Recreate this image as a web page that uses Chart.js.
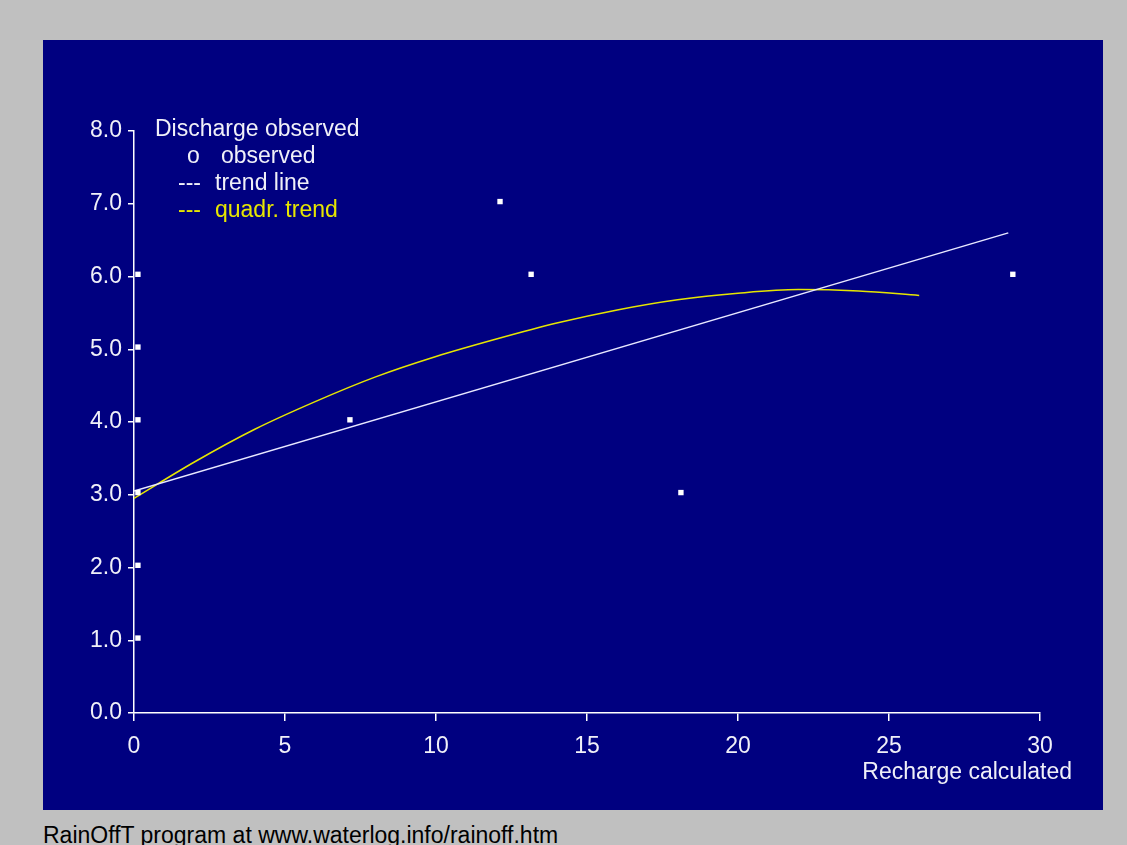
<!DOCTYPE html>
<html>
<head>
<meta charset="utf-8">
<script src="https://cdn.jsdelivr.net/npm/chart.js@4/dist/chart.umd.min.js"></script>
<style>
  body { margin: 0; background: #c0c0c0; width: 1127px; height: 845px; overflow: hidden; }
  #panel { position: absolute; left: 43px; top: 40px; width: 1060px; height: 770px; background: #000080; }
  #footer { position: absolute; left: 43px; top: 822px; font: 23px "Liberation Sans", Arial, sans-serif; color: #000; white-space: nowrap; }
</style>
</head>
<body>
<div id="panel"><canvas id="myChart" width="1060" height="770"></canvas></div>
<div id="footer">RainOffT program at www.waterlog.info/rainoff.htm</div>
<script>
// observed points (recharge calculated vs discharge observed)
const obsX = [0.13, 0.13, 0.13, 0.13, 0.13, 0.13, 7.15, 12.12, 13.15, 18.11, 29.1];
const obsY = [1.03, 2.03, 3.03, 4.03, 5.03, 6.03, 4.03, 7.03, 6.03, 3.03, 6.03];

// linear trend line, ends
const trendX = [0, 28.95];
const trendY = [3.05, 6.6];

// quadratic trend
const quadX = [0, 2, 4, 6, 8, 10, 12, 14, 16, 18, 20, 22, 24, 26];
const quadY = [2.95, 3.45, 3.9, 4.28, 4.62, 4.9, 5.14, 5.36, 5.54, 5.68, 5.77, 5.82, 5.8, 5.74];

const xTicks = [0, 5, 10, 15, 20, 25, 30];
const yTicks = [0, 1, 2, 3, 4, 5, 6, 7, 8];

const FONT = '"Liberation Sans", Arial, sans-serif';
const textColor = '#f0f0f8';

function toPoints(xs, ys) {
  return xs.map((x, i) => ({ x: x, y: ys[i] }));
}

// legend and axis title drawn as text on the canvas
const labelsPlugin = {
  id: 'labels',
  afterDraw(chart) {
    const ctx = chart.ctx;
    ctx.save();
    ctx.font = '23px ' + FONT;
    ctx.textBaseline = 'middle';
    ctx.textAlign = 'left';
    ctx.fillStyle = textColor;
    ctx.fillText('Discharge observed', 112, 90);
    ctx.fillText('o', 144, 117);
    ctx.fillText('observed', 178, 117);
    ctx.fillText('---', 135, 144);
    ctx.fillText('trend line', 172, 144);
    ctx.fillStyle = '#e6e600';
    ctx.fillText('---', 135, 171);
    ctx.fillText('quadr. trend', 172, 171);
    ctx.fillStyle = textColor;
    ctx.textAlign = 'right';
    ctx.fillText('Recharge calculated', 1029, 733);
    ctx.restore();
  }
};

const config = {
  type: 'scatter',
  data: {
    datasets: [
      {
        label: 'observed',
        data: toPoints(obsX, obsY),
        pointStyle: 'rect',
        pointRadius: 3.8,
        backgroundColor: '#ffffff',
        borderColor: '#ffffff',
        borderWidth: 0,
      },
      {
        label: 'trend line',
        type: 'line',
        data: toPoints(trendX, trendY),
        borderColor: '#e8e8ff',
        borderWidth: 1.5,
        pointRadius: 0,
        fill: false,
      },
      {
        label: 'quadr. trend',
        type: 'line',
        data: toPoints(quadX, quadY),
        borderColor: '#e6e600',
        borderWidth: 1.5,
        pointRadius: 0,
        cubicInterpolationMode: 'monotone',
        fill: false,
      },
    ],
  },
  options: {
    responsive: false,
    animation: false,
    layout: { padding: { left: 0, top: 91, right: 63, bottom: 0 } },
    plugins: { legend: { display: false }, tooltip: { enabled: false } },
    scales: {
      x: {
        type: 'linear',
        min: 0,
        max: 30,
        afterBuildTicks: (s) => { s.ticks = xTicks.map(v => ({ value: v })); },
        afterFit: (s) => { s.height = 97; },
        border: { color: '#ffffff', width: 1.5 },
        grid: { drawOnChartArea: false, color: '#ffffff', tickLength: 8, lineWidth: 1.5 },
        ticks: { color: textColor, font: { size: 23, family: FONT }, padding: 12 },
      },
      y: {
        type: 'linear',
        min: 0,
        max: 8,
        afterBuildTicks: (s) => { s.ticks = yTicks.map(v => ({ value: v })); },
        afterFit: (s) => { s.width = 91; },
        border: { color: '#ffffff', width: 1.5 },
        grid: { drawOnChartArea: false, color: '#ffffff', tickLength: 6, lineWidth: 1.5 },
        ticks: {
          color: textColor,
          font: { size: 23, family: FONT },
          padding: 6,
          callback: (v) => Number(v).toFixed(1),
        },
      },
    },
  },
  plugins: [labelsPlugin],
};

const myChart = new Chart(document.getElementById('myChart'), config);
</script>
</body>
</html>
